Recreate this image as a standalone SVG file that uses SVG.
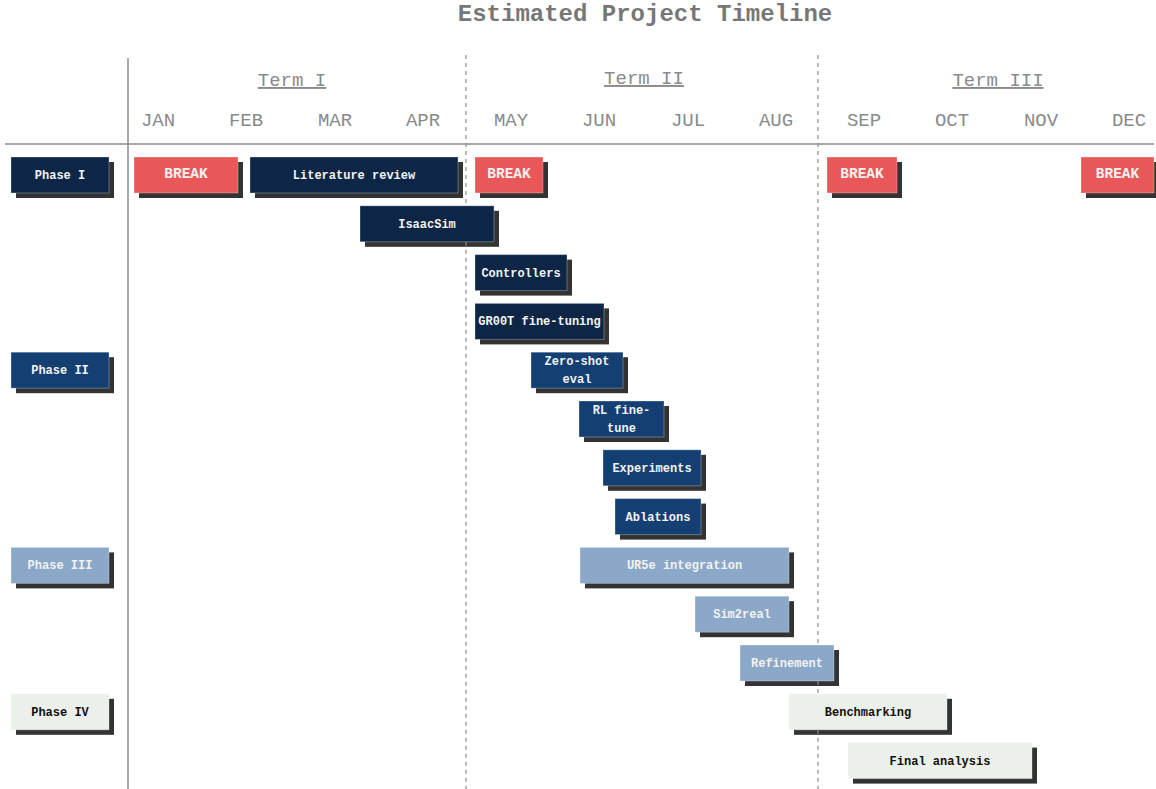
<svg xmlns="http://www.w3.org/2000/svg" width="1156" height="789" viewBox="0 0 1156 789">
  <style>
    .title { font-family: "Liberation Mono", "Courier New", monospace; font-weight: bold; font-size: 24px; fill: #777777; text-anchor: middle; }
    .term { font-family: "Liberation Mono", "Courier New", monospace; font-size: 19px; fill: #8a8a8a; text-anchor: middle; text-decoration: underline; }
    .month { font-family: "Liberation Mono", "Courier New", monospace; font-size: 19px; fill: #8a8a8a; text-anchor: middle; }
    .axis { stroke: #8c8c8c; stroke-width: 1.5; fill: none; }
    .term-sep { stroke: #8c8c8c; stroke-width: 1.2; stroke-dasharray: 4 4; fill: none; }
    .shadow { fill: #333333; }
    .box { stroke: #ffffff; stroke-opacity: 0.3; stroke-width: 1; }
    .p1 { fill: #0e2646; }
    .p2 { fill: #143f72; }
    .p3 { fill: #8ba8c8; }
    .p4 { fill: #ecf0eb; }
    .brk { fill: #e95858; }
    .lbl { font-family: "Liberation Mono", "Courier New", monospace; font-weight: bold; font-size: 12px; fill: #f2f2f2; text-anchor: middle; }
    .lbl.dark { fill: #111111; }
    .lbl.big { font-size: 14.5px; }
  </style>

  <!-- heading -->
  <text class="title" x="645" y="21">Estimated Project Timeline</text>

  <!-- terms and months -->
  <g id="header">
    <text class="term" x="292" y="86">Term I</text>
    <text class="term" x="644" y="84">Term II</text>
    <text class="term" x="998" y="86">Term III</text>
    <text class="month" x="158" y="126">JAN</text>
    <text class="month" x="246" y="126">FEB</text>
    <text class="month" x="335" y="126">MAR</text>
    <text class="month" x="423" y="126">APR</text>
    <text class="month" x="511" y="126">MAY</text>
    <text class="month" x="599" y="126">JUN</text>
    <text class="month" x="688" y="126">JUL</text>
    <text class="month" x="776" y="126">AUG</text>
    <text class="month" x="864" y="126">SEP</text>
    <text class="month" x="952" y="126">OCT</text>
    <text class="month" x="1041" y="126">NOV</text>
    <text class="month" x="1129" y="126">DEC</text>
  </g>

  <!-- grid lines -->
  <g id="connectors">
    <line class="axis" x1="5" y1="144" x2="1154" y2="144"/>
    <line class="axis" x1="128" y1="58" x2="128" y2="789"/>
  </g>

  <!-- phase labels -->
  <g id="phase-1"><rect class="shadow" x="16" y="162" width="98" height="36"/><rect class="box p1" x="11" y="157" width="98" height="36"/><text class="lbl" x="60" y="179">Phase I</text></g>
  <g id="phase-2"><rect class="shadow" x="16" y="357.2" width="98" height="36"/><rect class="box p2" x="11" y="352.2" width="98" height="36"/><text class="lbl" x="60" y="374.2">Phase II</text></g>
  <g id="phase-3"><rect class="shadow" x="16" y="552.4" width="98" height="36"/><rect class="box p3" x="11" y="547.4" width="98" height="36"/><text class="lbl" x="60" y="569.4">Phase III</text></g>
  <g id="phase-4"><rect class="shadow" x="16" y="698.8" width="98" height="36"/><rect class="box p4" x="11" y="693.8" width="98" height="36"/><text class="lbl dark" x="60" y="715.8">Phase IV</text></g>

  <!-- breaks -->
  <g id="break-jan"><rect class="shadow" x="139" y="162" width="104" height="36"/><rect class="box brk" x="134" y="157" width="104" height="36"/><text class="lbl big" x="186" y="178">BREAK</text></g>
  <g id="break-may"><rect class="shadow" x="480" y="162" width="68" height="36"/><rect class="box brk" x="475" y="157" width="68" height="36"/><text class="lbl big" x="509" y="178">BREAK</text></g>
  <g id="break-sep"><rect class="shadow" x="832" y="162" width="70" height="36"/><rect class="box brk" x="827" y="157" width="70" height="36"/><text class="lbl big" x="862" y="178">BREAK</text></g>
  <g id="break-dec"><rect class="shadow" x="1086" y="162" width="73" height="36"/><rect class="box brk" x="1081" y="157" width="73" height="36"/><text class="lbl big" x="1117.5" y="178">BREAK</text></g>

  <!-- phase I tasks -->
  <g id="literature-review"><rect class="shadow" x="255" y="162" width="208" height="36"/><rect class="box p1" x="250" y="157" width="208" height="36"/><text class="lbl" x="354" y="179">Literature review</text></g>
  <g id="isaacsim"><rect class="shadow" x="365" y="210.8" width="134" height="36"/><rect class="box p1" x="360" y="205.8" width="134" height="36"/><text class="lbl" x="427" y="227.8">IsaacSim</text></g>
  <g id="controllers"><rect class="shadow" x="480" y="259.6" width="92" height="36"/><rect class="box p1" x="475" y="254.6" width="92" height="36"/><text class="lbl" x="521" y="276.6">Controllers</text></g>
  <g id="groot-fine-tuning"><rect class="shadow" x="480" y="308.4" width="129" height="36"/><rect class="box p1" x="475" y="303.4" width="129" height="36"/><text class="lbl" x="539.5" y="325.4">GR00T fine-tuning</text></g>

  <!-- phase II tasks -->
  <g id="zero-shot-eval"><rect class="shadow" x="536" y="357.2" width="92" height="36"/><rect class="box p2" x="531" y="352.2" width="92" height="36"/><text class="lbl" x="577" y="365.2">Zero-shot</text><text class="lbl" x="577" y="383.2">eval</text></g>
  <g id="rl-fine-tune"><rect class="shadow" x="584" y="406" width="85" height="36"/><rect class="box p2" x="579" y="401" width="85" height="36"/><text class="lbl" x="621.5" y="414">RL fine-</text><text class="lbl" x="621.5" y="432">tune</text></g>
  <g id="experiments"><rect class="shadow" x="608" y="454.8" width="98" height="36"/><rect class="box p2" x="603" y="449.8" width="98" height="36"/><text class="lbl" x="652" y="471.8">Experiments</text></g>
  <g id="ablations"><rect class="shadow" x="620" y="503.6" width="86" height="36"/><rect class="box p2" x="615" y="498.6" width="86" height="36"/><text class="lbl" x="658" y="520.6">Ablations</text></g>

  <!-- phase III tasks -->
  <g id="ur5e-integration"><rect class="shadow" x="585" y="552.4" width="209" height="36"/><rect class="box p3" x="580" y="547.4" width="209" height="36"/><text class="lbl" x="684.5" y="569.4">UR5e integration</text></g>
  <g id="sim2real"><rect class="shadow" x="700" y="601.2" width="94" height="36"/><rect class="box p3" x="695" y="596.2" width="94" height="36"/><text class="lbl" x="742" y="618.2">Sim2real</text></g>
  <g id="refinement"><rect class="shadow" x="745" y="650" width="94" height="36"/><rect class="box p3" x="740" y="645" width="94" height="36"/><text class="lbl" x="787" y="667">Refinement</text></g>

  <!-- phase IV tasks -->
  <g id="benchmarking"><rect class="shadow" x="794" y="698.8" width="158" height="36"/><rect class="box p4" x="789" y="693.8" width="158" height="36"/><text class="lbl dark" x="868" y="715.8">Benchmarking</text></g>
  <g id="final-analysis"><rect class="shadow" x="853" y="747.6" width="184" height="36"/><rect class="box p4" x="848" y="742.6" width="184" height="36"/><text class="lbl dark" x="940" y="764.6">Final analysis</text></g>

  <!-- term separators, broken where a bar sits across them -->
  <g id="term-separators">
    <path class="term-sep" d="M466 55 V205.8 M466 241.8 V789"/>
    <path class="term-sep" d="M818 55 V645 M818 681 V693.8 M818 729.8 V789"/>
  </g>
</svg>
